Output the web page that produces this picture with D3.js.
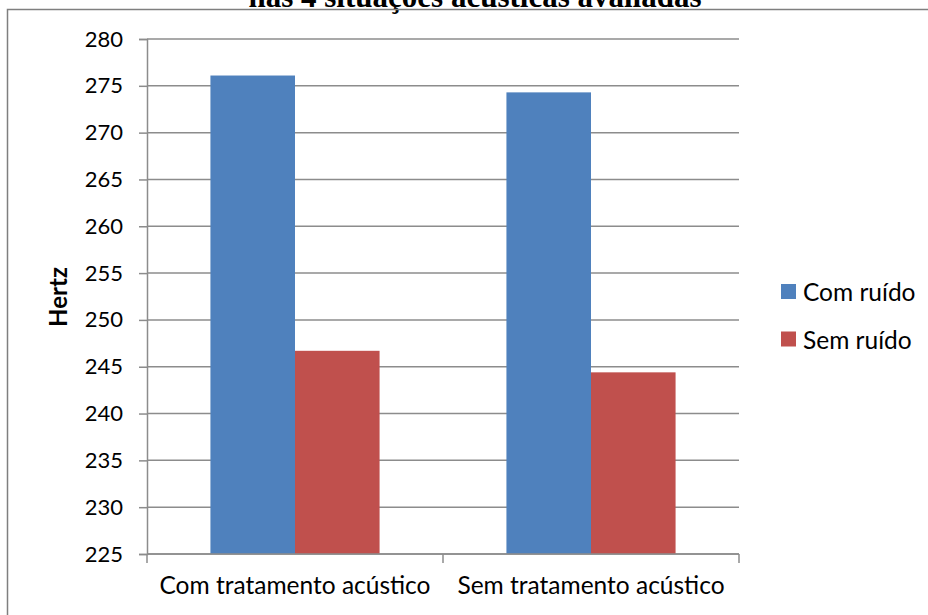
<!DOCTYPE html>
<html>
<head>
<meta charset="utf-8">
<script src="https://cdn.jsdelivr.net/npm/d3@7"></script>
<style>
  html, body { margin: 0; padding: 0; background: #fff; }
  svg { display: block; }
</style>
</head>
<body>
<svg id="chart" width="928" height="615"></svg>
<script>
// Fundamental frequency (Hz) by acoustic condition
const categories = ["Com tratamento acústico", "Sem tratamento acústico"];
const seriesNames = ["Com ruído", "Sem ruído"];
const comRuido = [276.1, 274.3];
const semRuido = [246.7, 244.4];
const yTicks = [225, 230, 235, 240, 245, 250, 255, 260, 265, 270, 275, 280];
const colors = ["#4F81BD", "#C0504D"];
const titleText = "nas 4 situações acústicas avaliadas";

const seriesValues = [comRuido, semRuido];
const rows = categories.map((c, i) => ({
  category: c,
  values: seriesNames.map((s, j) => ({ series: s, value: seriesValues[j][i], color: colors[j] }))
}));

const svg = d3.select("#chart");
const font = "Lato, 'Open Sans', sans-serif";
const gridColor = "#8c8c8c";

const plot = { left: 147, right: 739, top: 39, bottom: 554 };

// Last line of the caption above the chart, running off the top edge
svg.append("text")
  .attr("x", 475).attr("y", 7)
  .attr("text-anchor", "middle")
  .attr("font-family", "'Liberation Serif', 'Times New Roman', serif")
  .attr("font-weight", "bold")
  .attr("font-size", 31)
  .attr("fill", "#000")
  .text(titleText);

// Chart frame
svg.append("rect")
  .attr("x", 7.5).attr("y", 9.5)
  .attr("width", 940).attr("height", 640)
  .attr("fill", "none")
  .attr("stroke", "#7f7f7f")
  .attr("stroke-width", 1.5);

const y = d3.scaleLinear().domain([225, 280]).range([plot.bottom, plot.top]);
const x0 = d3.scaleBand().domain(categories).range([plot.left, plot.right]).padding(0);
const x1 = d3.scaleBand().domain(seriesNames).range([0, x0.bandwidth()])
  .paddingInner(0).paddingOuter(0.75);

// Horizontal gridlines
svg.append("g")
  .selectAll("line")
  .data(yTicks)
  .join("line")
  .attr("x1", plot.left).attr("x2", plot.right)
  .attr("y1", d => y(d)).attr("y2", d => y(d))
  .attr("stroke", gridColor)
  .attr("stroke-width", 1.5);

// Bars
const groups = svg.append("g")
  .selectAll("g")
  .data(rows)
  .join("g")
  .attr("transform", d => `translate(${x0(d.category)},0)`);

groups.selectAll("rect")
  .data(d => d.values)
  .join("rect")
  .attr("x", d => x1(d.series))
  .attr("y", d => y(d.value))
  .attr("width", x1.bandwidth())
  .attr("height", d => y(225) - y(d.value))
  .attr("fill", d => d.color);

// Y axis
const yAxis = svg.append("g")
  .attr("transform", `translate(${plot.left},0)`)
  .call(d3.axisLeft(y).tickValues(yTicks).tickSize(8).tickPadding(16).tickFormat(d3.format("d")));
yAxis.select(".domain").attr("stroke", gridColor).attr("stroke-width", 1.5);
yAxis.selectAll(".tick line").attr("stroke", gridColor).attr("stroke-width", 1.5);
yAxis.selectAll(".tick text")
  .attr("font-family", font).attr("font-size", 22).attr("fill", "#000");

// X axis: ticks at category boundaries
const xAxisG = svg.append("g").attr("transform", `translate(0,${plot.bottom})`);
xAxisG.append("line")
  .attr("x1", plot.left).attr("x2", plot.right)
  .attr("stroke", gridColor).attr("stroke-width", 1.5);
const boundaries = categories.map(c => x0(c)).concat([x0(categories[categories.length - 1]) + x0.bandwidth()]);
xAxisG.selectAll("line.tick")
  .data(boundaries)
  .join("line")
  .attr("class", "tick")
  .attr("x1", d => d).attr("x2", d => d)
  .attr("y1", 0).attr("y2", 9)
  .attr("stroke", gridColor).attr("stroke-width", 1.5);
xAxisG.selectAll("text")
  .data(categories)
  .join("text")
  .attr("x", d => x0(d) + x0.bandwidth() / 2)
  .attr("y", 40)
  .attr("text-anchor", "middle")
  .attr("font-family", font).attr("font-size", 24.5).attr("fill", "#000")
  .text(d => d);

// Y axis title
svg.append("text")
  .attr("transform", "translate(67,297) rotate(-90)")
  .attr("text-anchor", "middle")
  .attr("font-family", font).attr("font-weight", "bold")
  .attr("font-size", 24).attr("fill", "#000")
  .text("Hertz");

// Legend
const legend = svg.append("g").attr("transform", "translate(781,284)")
  .selectAll("g")
  .data(seriesNames)
  .join("g")
  .attr("transform", (d, i) => `translate(0,${i * 47.5})`);
legend.append("rect")
  .attr("width", 15).attr("height", 15)
  .attr("fill", (d, i) => colors[i]);
legend.append("text")
  .attr("x", 22).attr("y", 7.5)
  .attr("dominant-baseline", "central")
  .attr("font-family", font).attr("font-size", 24.5).attr("fill", "#000")
  .text(d => d);
</script>
</body>
</html>
